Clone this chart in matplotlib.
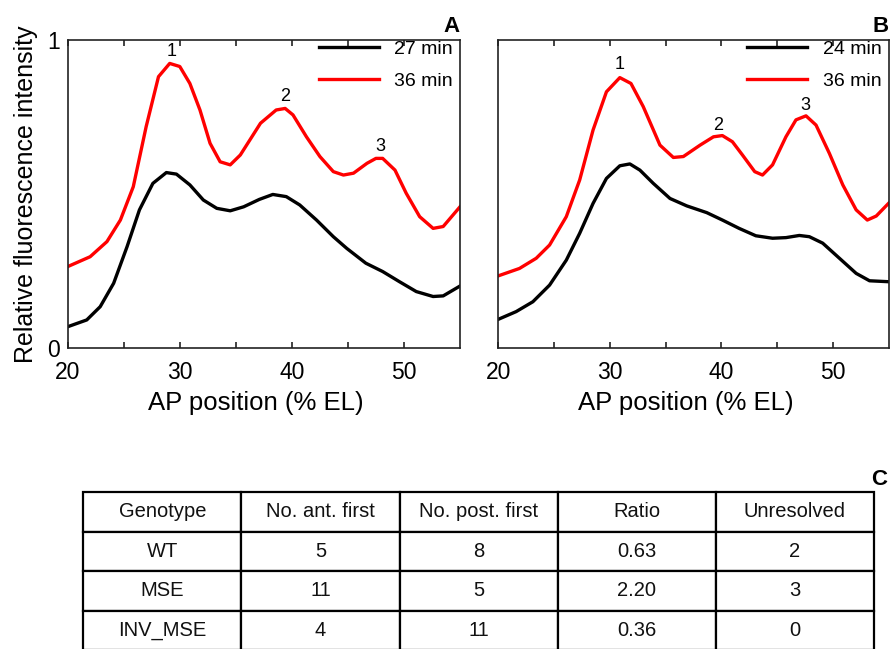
import matplotlib
matplotlib.use('Agg')
import matplotlib.pyplot as plt

plt.rcParams['font.family'] = ['Liberation Sans', 'DejaVu Sans']

# ---------------- data ----------------
# Panel A
a_black_x = [20, 21.7, 22.9, 24.1, 25.3, 26.4, 27.6, 28.8, 29.7, 30.9, 32.1, 33.3, 34.5, 35.7,
             37.1, 38.3, 39.5, 40.7, 42.2, 43.7, 44.9, 46.6, 48.1, 49.6, 51.1, 52.6, 53.5, 55]
a_black_y = [0.070, 0.092, 0.135, 0.211, 0.330, 0.449, 0.535, 0.570, 0.565, 0.530, 0.481, 0.454,
             0.446, 0.459, 0.483, 0.499, 0.492, 0.465, 0.416, 0.362, 0.324, 0.276, 0.249, 0.216,
             0.184, 0.168, 0.170, 0.202]
a_red_x = [20, 22, 23.5, 24.7, 25.85, 27.0, 28.1, 29.1, 30.0, 30.9, 31.8, 32.7, 33.6, 34.5, 35.4,
           37.2, 38.6, 39.4, 40.1, 41.3, 42.5, 43.7, 44.6, 45.5, 46.7, 47.5, 48.1, 49.2, 50.2,
           51.4, 52.6, 53.5, 55]
a_red_y = [0.265, 0.297, 0.346, 0.416, 0.524, 0.719, 0.881, 0.924, 0.914, 0.859, 0.773, 0.665,
           0.605, 0.595, 0.627, 0.730, 0.773, 0.778, 0.757, 0.686, 0.622, 0.573, 0.562, 0.568,
           0.600, 0.616, 0.616, 0.578, 0.503, 0.427, 0.389, 0.395, 0.459]
a_labels = ['27 min', '36 min']
a_peaks_x = [29.3, 39.4, 47.9]
a_peaks_y = [0.962, 0.816, 0.656]

# Panel B
b_black_x = [20, 21.6, 23.1, 24.6, 26.1, 27.3, 28.5, 29.7, 30.9, 31.8, 32.7, 33.9, 35.4, 36.9,
             38.7, 40.1, 41.6, 43.1, 44.6, 45.8, 47.0, 47.9, 49.1, 50.6, 52.1, 53.3, 55]
b_black_y = [0.094, 0.119, 0.151, 0.205, 0.286, 0.373, 0.470, 0.551, 0.592, 0.598, 0.578, 0.535,
             0.486, 0.462, 0.440, 0.416, 0.389, 0.365, 0.357, 0.359, 0.366, 0.362, 0.341, 0.292,
             0.243, 0.219, 0.216]
b_red_x = [20, 21.9, 23.4, 24.6, 26.1, 27.3, 28.5, 29.7, 30.9, 31.9, 33.0, 34.5, 35.7, 36.6,
           38.1, 39.3, 40.1, 41.0, 41.9, 43.0, 43.7, 44.6, 45.8, 46.7, 47.6, 48.5, 49.7, 50.9,
           52.1, 53.1, 53.9, 55]
b_red_y = [0.235, 0.259, 0.292, 0.335, 0.427, 0.546, 0.708, 0.832, 0.878, 0.859, 0.784, 0.659,
           0.619, 0.622, 0.659, 0.686, 0.690, 0.670, 0.627, 0.573, 0.562, 0.595, 0.686, 0.741,
           0.754, 0.724, 0.632, 0.530, 0.449, 0.416, 0.429, 0.470]
b_labels = ['24 min', '36 min']
b_peaks_x = [30.9, 39.7, 47.55]
b_peaks_y = [0.919, 0.724, 0.789]

peak_names = ['1', '2', '3']

# Panel C table
table_header = ['Genotype', 'No. ant. first', 'No. post. first', 'Ratio', 'Unresolved']
genotypes = ['WT', 'MSE', 'INV_MSE']
n_ant_first = [5, 11, 4]
n_post_first = [8, 5, 11]
ratios = ['0.63', '2.20', '0.36']
unresolved = [2, 3, 0]

x_major = [20, 30, 40, 50]
x_minor = [25, 35, 45]

# ---------------- figure ----------------
W, H = 890, 649
fig = plt.figure(figsize=(W / 100, H / 100), dpi=100)


def px_axes(l, t, r, b):
    return [l / W, 1 - b / H, (r - l) / W, (b - t) / H]


axA = fig.add_axes(px_axes(67.7, 40, 460, 348.3))
axB = fig.add_axes(px_axes(498.3, 40, 888.5, 348.3))

panels = [
    (axA, a_black_x, a_black_y, a_red_x, a_red_y, a_labels, a_peaks_x, a_peaks_y, True),
    (axB, b_black_x, b_black_y, b_red_x, b_red_y, b_labels, b_peaks_x, b_peaks_y, False),
]

for ax, bx, by, rx, ry, labs, pkx, pky, show_y in panels:
    ax.plot(bx, by, color='black', lw=2.4, label=labs[0], solid_joinstyle='round')
    ax.plot(rx, ry, color='#ff0000', lw=2.4, label=labs[1], solid_joinstyle='round')
    for name, x, y in zip(peak_names, pkx, pky):
        ax.text(x, y, name, ha='center', va='center', fontsize=13)
    ax.set_xlim(20, 55)
    ax.set_ylim(0, 1)
    ax.set_xticks(x_major)
    ax.set_xticks(x_minor, minor=True)
    ax.tick_params(axis='x', which='both', direction='in', top=True, length=4,
                   width=1.2, labelsize=16.5, pad=9.5, color='#222222')
    ax.set_yticks([0, 1])
    ax.tick_params(axis='y', which='both', length=0, labelsize=16.5, pad=5.5)
    if show_y:
        ax.set_yticklabels(['0', '1'])
        ax.set_ylabel('Relative fluorescence intensity', fontsize=18)
        ax.yaxis.set_label_coords(-0.0757, 0.5)
    else:
        ax.set_yticklabels([])
    ax.set_xlabel('AP position (% EL)', fontsize=18.5)
    ax.xaxis.set_label_coords(0.48, -0.137)
    for sp in ax.spines.values():
        sp.set_linewidth(1.2)
        sp.set_color('#222222')
    ax.legend(loc='upper right', bbox_to_anchor=(1 - 7 / 390, 1.0), frameon=False,
              fontsize=14, handlelength=3.1, handletextpad=0.8, labelspacing=0.75,
              borderpad=0, borderaxespad=0)

# panel letters
fig.text(460 / W, 1 - 31.7 / H, 'A', ha='right', va='baseline', fontsize=16, fontweight='bold')
fig.text(889 / W, 1 - 31.7 / H, 'B', ha='right', va='baseline', fontsize=16, fontweight='bold')
fig.text(887 / W, 1 - 485 / H, 'C', ha='right', va='baseline', fontsize=16, fontweight='bold')

# table
axT = fig.add_axes(px_axes(83.3, 492, 874, 650))
axT.axis('off')
cell_text = [[g, str(a), str(p), r, str(u)]
             for g, a, p, r, u in zip(genotypes, n_ant_first, n_post_first, ratios, unresolved)]
tbl = axT.table(cellText=[table_header] + cell_text, cellLoc='center', bbox=[0, 0, 1, 1])
tbl.auto_set_font_size(False)
for (r, c), cell in tbl.get_celld().items():
    cell.set_linewidth(1.6)
    cell.set_edgecolor('black')
    cell.get_text().set_fontsize(14.5)
    cell.get_text().set_color('#111111')

fig.savefig('out.png', dpi=100)
